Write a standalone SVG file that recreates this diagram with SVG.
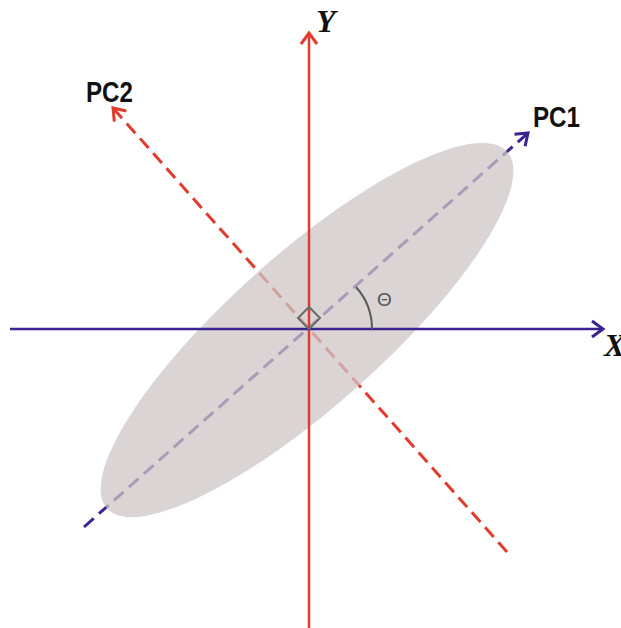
<svg xmlns="http://www.w3.org/2000/svg" width="621" height="628" viewBox="0 0 621 628">
<defs>
<style>
.lbl{font-family:"Liberation Sans",Arial,sans-serif;font-weight:bold;font-size:29px;fill:#111}
.ax{font-family:"Liberation Serif","Times New Roman",serif;font-weight:bold;font-style:italic;font-size:32px;fill:#111}
.red{stroke:#e23b2e;fill:none}
.pur{stroke:#3a2391;fill:none}
.dash{stroke-width:3;stroke-dasharray:13 7}
</style>
<marker id="ar" markerUnits="userSpaceOnUse" markerWidth="30" markerHeight="30" viewBox="-15 -15 30 30" refX="0" refY="0" orient="auto">
<path d="M-11,-8 L0,0 L-11,8" fill="none" stroke="#e23b2e" stroke-width="3"/>
</marker>
<marker id="ap" markerUnits="userSpaceOnUse" markerWidth="30" markerHeight="30" viewBox="-15 -15 30 30" refX="0" refY="0" orient="auto">
<path d="M-11,-8 L0,0 L-11,8" fill="none" stroke="#3a2391" stroke-width="3"/>
</marker>
</defs>
<rect width="621" height="628" fill="#ffffff"/>
<g id="connectors">
<line id="pc1-axis" class="pur dash" x1="84" y1="527" x2="528" y2="133" marker-end="url(#ap)"/>
<line id="pc2-axis" class="red dash" x1="507" y1="552" x2="113" y2="108" marker-end="url(#ar)"/>
</g>
<g id="ellipse">
<ellipse cx="307" cy="330" rx="268" ry="76" transform="rotate(-41.7 307 330)" fill="#cdc6c6" fill-opacity="0.75"/>
</g>
<g id="axes">
<line id="y-axis" class="red" stroke-width="2.5" x1="309" y1="628" x2="309" y2="33" marker-end="url(#ar)"/>
<line id="x-axis" class="pur" stroke-width="2.5" x1="10" y1="329" x2="603" y2="329" marker-end="url(#ap)"/>
</g>
<g id="right-angle">
<path d="M309,329 L298,318 L309,307 L320,318 Z" fill="none" stroke="#6b6b6b" stroke-width="2"/>
</g>
<g id="theta-arc">
<path d="M372,329 A63,63 0 0 0 356,287" fill="none" stroke="#5a5a5a" stroke-width="2"/>
<text x="377" y="306" font-family="'Liberation Sans',Arial,sans-serif" font-size="19" fill="#555">Θ</text>
</g>
<g id="label-pc1"><text class="lbl" x="533" y="127" textLength="47" lengthAdjust="spacingAndGlyphs">PC1</text></g>
<g id="label-pc2"><text class="lbl" x="86" y="102" textLength="47" lengthAdjust="spacingAndGlyphs">PC2</text></g>
<g id="label-y"><text class="ax" x="316" y="32">Y</text></g>
<g id="label-x"><text class="ax" x="604" y="356">X</text></g>
</svg>
